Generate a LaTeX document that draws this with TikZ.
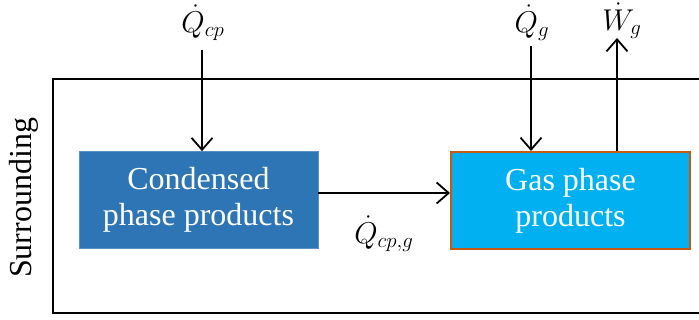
\documentclass[tikz,border=0pt]{standalone}
\usepackage{fontspec}
\setmainfont{Liberation Serif}
\usetikzlibrary{arrows.meta}
\definecolor{condblue}{HTML}{2E75B6}
\definecolor{gasblue}{HTML}{00B0F0}
\definecolor{gasedge}{HTML}{C55A11}
\begin{document}
\begin{tikzpicture}[x=1pt,y=-1pt,
  flow/.style={draw=black,line width=1.8pt,-{Straight Barb[length=12pt,width=21pt,line width=1.8pt]}},
  phasebox/.style={minimum width=239pt,minimum height=97pt,inner sep=0pt,align=center,
    text=white,font=\fontsize{32}{36}\selectfont},
  qlabel/.style={font=\fontsize{20}{24}\selectfont,scale=1.45,inner sep=1pt}]
\useasboundingbox (0,0) rectangle (699,320);
% control volume boundary, open to the right edge
\begin{scope}
\clip (0,0) rectangle (699,320);
\draw[line width=2pt] (720,79) -- (53,79) -- (53,313) -- (720,313);
\end{scope}
\node[rotate=90,font=\fontsize{32}{36}\selectfont] (sur) at (24,198) {Surrounding};
% phase boxes
\node[phasebox,fill=condblue,draw=condblue!80!white,line width=0.6pt] (cond) at (198.5,200) {Condensed\\phase products};
\node[phasebox,fill=gasblue,draw=gasedge,line width=2pt] (gas) at (570.5,200.5) {Gas phase\\products};
% heat and work labels
\node[qlabel] (qcp) at (203,23) {$\dot{Q}_{cp}$};
\node[qlabel] (qg) at (532,23) {$\dot{Q}_{g}$};
\node[qlabel] (wg) at (622,21) {$\dot{W}_{g}$};
\node[qlabel] (qcpg) at (384,234) {$\dot{Q}_{cp,g}$};
% flows
\coordinate (qcpin) at (202,50);
\coordinate (qgin) at (531,46);
\coordinate (wgout) at (617,38);
\draw[flow] (qcpin) -- (qcpin |- cond.north);
\draw[flow] (qgin) -- (qgin |- gas.north);
\draw[flow] (wgout |- gas.north) -- (wgout);
\draw[flow] (cond.east |- 0,193) -- (gas.west |- 0,193);
\end{tikzpicture}
\end{document}
